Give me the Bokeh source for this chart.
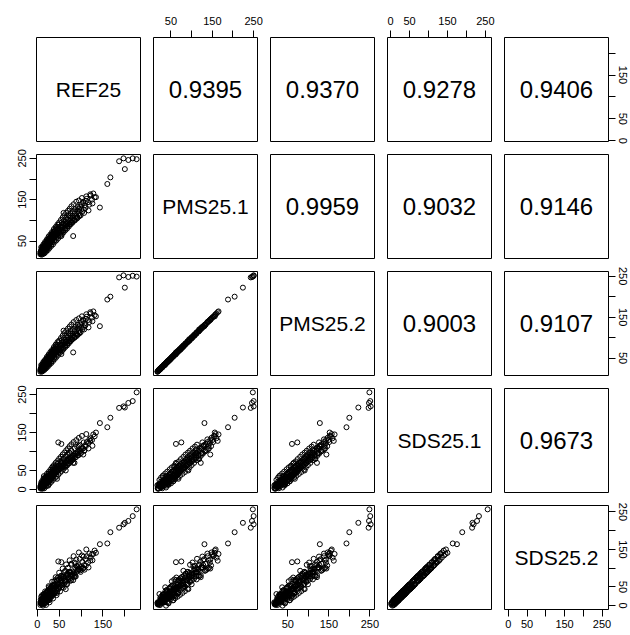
from bokeh.plotting import figure
from bokeh.layouts import gridplot
from bokeh.models import Range1d, LinearAxis, FixedTicker, ColumnDataSource
from bokeh.core.properties import value
from bokeh.embed import file_html
from bokeh.resources import INLINE

# ---------------- data ----------------
names = ["REF25", "PMS25.1", "PMS25.2", "SDS25.1", "SDS25.2"]

ref25 = [7, 7, 8, 8, 9, 9, 10, 10, 11, 11,
         12, 12, 13, 13, 14, 14, 15, 15, 16, 16,
         17, 17, 18, 18, 19, 19, 20, 20, 21, 21,
         22, 22, 23, 23, 24, 24, 25, 25, 26, 26,
         27, 27, 28, 28, 29, 29, 30, 30, 31, 31,
         32, 32, 33, 33, 34, 34, 35, 35, 36, 36,
         37, 37, 38, 38, 39, 39, 40, 40, 41, 42,
         43, 43, 44, 45, 45, 46, 47, 47, 48, 49,
         50, 51, 52, 53, 54, 55, 56, 57, 58, 59,
         60, 61, 62, 63, 64, 65, 66, 67, 68, 69,
         70, 71, 72, 73, 74, 75, 76, 77, 78, 79,
         80, 81, 82, 84, 85, 86, 87, 88, 90, 91,
         92, 93, 94, 96, 97, 98, 100, 101, 103, 105,
         106, 108, 110, 111, 113, 116, 119, 122, 125, 128,
         131,
         9, 12, 14, 16, 18, 20, 22, 24, 26, 28,
         30, 32, 34, 36, 38, 40, 42, 44, 46, 48,
         50, 52, 54, 56, 58, 60, 62, 64, 66, 68,
         70, 72, 74, 76, 78, 80, 83, 86, 89, 92,
         95, 99, 102, 107, 112, 117, 121, 126,
         15, 25, 35, 45, 55, 65, 75, 85, 95, 105,
         8, 10, 11, 13, 15, 17, 19, 21, 23, 25,
         27, 29, 9, 12, 14, 18, 20, 24, 28, 32,
         227, 218, 208, 197, 187, 200, 167, 160, 143, 134, 55, 48, 60, 82]

pms25_1 = [18, 22, 20, 25, 19, 27, 23, 30, 26, 35,
           21, 33, 28, 38, 31, 24, 35, 22, 29, 38,
           27, 44, 33, 41, 36, 26, 30, 44, 39, 50,
           34, 47, 42, 31, 37, 50, 45, 55, 40, 53,
           48, 36, 43, 56, 51, 60, 46, 59, 54, 41,
           49, 62, 57, 66, 52, 65, 60, 47, 55, 68,
           63, 72, 58, 71, 66, 52, 61, 74, 78, 69,
           64, 58, 77, 72, 84, 67, 80, 63, 75, 90,
           70, 84, 79, 69, 73, 88, 95, 83, 77, 74,
           92, 100, 87, 81, 80, 96, 106, 91, 86, 85,
           101, 112, 95, 91, 90, 106, 117, 100, 96, 95,
           111, 122, 105, 99, 102, 117, 127, 110, 104, 108,
           123, 132, 116, 110, 113, 133, 126, 139, 121, 142,
           126, 136, 130, 147, 152, 144, 138, 160, 150, 165,
           156,
           35, 18, 42, 20, 48, 24, 54, 28, 61, 33,
           66, 38, 72, 42, 79, 48, 84, 52, 90, 57,
           95, 62, 101, 66, 107, 71, 112, 76, 118, 80,
           123, 85, 128, 90, 134, 94, 139, 100, 145, 106,
           148, 112, 154, 118, 158, 124, 163, 141,
           30, 40, 58, 68, 82, 92, 110, 122, 128, 145,
           24, 17, 29, 25, 33, 30, 40, 34, 45, 38,
           50, 44, 21, 28, 26, 36, 39, 43, 47, 55,
           248, 250, 246, 250, 243, 224, 204, 188, 131, 156, 62, 75, 118, 62]

pms25_2 = [17, 21, 20, 24, 19, 26, 22, 29, 26, 34,
           21, 32, 27, 37, 31, 24, 34, 22, 29, 37,
           27, 43, 33, 40, 35, 26, 30, 43, 38, 49,
           34, 46, 41, 31, 37, 49, 44, 54, 40, 52,
           47, 36, 43, 55, 50, 59, 46, 58, 53, 41,
           49, 61, 56, 65, 52, 64, 59, 47, 55, 67,
           62, 71, 58, 70, 65, 52, 61, 73, 77, 68,
           64, 58, 76, 71, 83, 67, 79, 63, 74, 89,
           70, 83, 78, 69, 73, 87, 94, 82, 77, 74,
           91, 99, 86, 81, 80, 95, 105, 90, 86, 85,
           100, 111, 94, 91, 90, 105, 116, 99, 96, 95,
           110, 121, 104, 99, 102, 116, 126, 109, 104, 108,
           122, 131, 115, 110, 113, 132, 125, 138, 121, 141,
           126, 135, 130, 146, 151, 143, 138, 159, 149, 164,
           155,
           33, 18, 41, 21, 46, 25, 53, 29, 59, 34,
           65, 38, 70, 43, 77, 48, 83, 53, 89, 58,
           93, 63, 99, 67, 105, 72, 111, 77, 116, 81,
           122, 86, 127, 91, 132, 96, 138, 101, 143, 107,
           147, 113, 152, 120, 157, 125, 162, 140,
           29, 41, 57, 67, 81, 91, 109, 121, 127, 144,
           23, 17, 28, 25, 32, 30, 39, 34, 44, 38,
           49, 44, 21, 27, 26, 35, 39, 42, 47, 54,
           249, 251, 248, 252, 247, 222, 200, 193, 128, 152, 60, 73, 117, 64]

sds25_1 = [4, 8, 2, 10, 12, 6, 14, 9, 16, 22,
           11, 18, 7, 5, 20, 13, 15, 25, 22, 19,
           10, 12, 24, 17, 26, 31, 21, 14, 28, 16,
           19, 30, 23, 37, 33, 25, 18, 21, 35, 29,
           38, 42, 27, 22, 32, 27, 40, 36, 26, 47,
           43, 34, 30, 31, 46, 39, 33, 53, 48, 42,
           37, 36, 51, 45, 40, 58, 54, 49, 41, 44,
           57, 63, 52, 47, 46, 60, 55, 68, 50, 52,
           63, 58, 54, 74, 66, 62, 58, 57, 70, 80,
           66, 64, 61, 74, 86, 70, 70, 65, 78, 92,
           75, 77, 69, 97, 83, 79, 82, 74, 102, 88,
           84, 88, 79, 93, 108, 89, 94, 85, 98, 113,
           95, 100, 90, 104, 118, 101, 96, 106, 110, 108,
           124, 103, 117, 114, 125, 122, 132, 135, 130, 145,
           140,
           18, 2, 28, 3, 33, 8, 41, 12, 46, 15,
           52, 20, 58, 25, 64, 30, 70, 34, 75, 39,
           81, 44, 86, 49, 92, 54, 97, 59, 103, 63,
           108, 68, 114, 73, 119, 78, 125, 84, 130, 90,
           136, 96, 141, 102, 146, 108, 128, 115,
           35, 10, 60, 28, 72, 50, 95, 70, 115, 92,
           6, 11, 3, 15, 9, 18, 14, 24, 19, 27,
           23, 33, 13, 8, 21, 17, 27, 22, 30, 37,
           256, 233, 228, 219, 215, 216, 189, 164, 175, 150, 120, 124, 80, 70]

sds25_2 = [9, 2, 6, 16, 5, 12, 8, 17, 10, 28,
           4, 25, 14, 0, 13, 20, 9, 31, 16, 26,
           17, 6, 30, 10, 33, 24, 28, 8, 35, 23,
           12, 37, 30, 30, 40, 18, 25, 14, 42, 22,
           31, 49, 34, 15, 39, 20, 47, 29, 33, 40,
           50, 27, 37, 24, 53, 32, 40, 46, 55, 35,
           44, 29, 44, 52, 33, 65, 47, 56, 34, 51,
           50, 70, 45, 54, 39, 67, 48, 75, 57, 45,
           70, 51, 61, 67, 73, 55, 65, 50, 77, 73,
           73, 57, 68, 67, 93, 63, 77, 58, 85, 85,
           82, 70, 76, 90, 90, 72, 89, 67, 109, 81,
           91, 81, 86, 86, 115, 82, 101, 78, 105, 106,
           102, 93, 97, 97, 125, 94, 103, 99, 117, 101,
           131, 96, 124, 107, 132, 115, 139, 128, 137, 138,
           147,
           24, 3, 22, 8, 38, 2, 35, 18, 52, 9,
           45, 26, 64, 19, 57, 36, 76, 28, 68, 45,
           88, 38, 79, 55, 99, 48, 90, 65, 110, 57,
           101, 74, 121, 67, 112, 84, 132, 78, 123, 96,
           142, 90, 134, 108, 150, 102, 120, 121,
           30, 16, 52, 34, 80, 44, 88, 76, 108, 99,
           10, 7, 8, 12, 15, 14, 20, 19, 25, 23,
           29, 28, 9, 13, 17, 22, 22, 28, 26, 33,
           257, 239, 226, 217, 208, 221, 196, 166, 164, 141, 116, 118, 78, 68]

# correlations shown in the upper panels: (row, col) -> text
corr_rows = [0, 0, 0, 0, 1, 1, 1, 2, 2, 3]
corr_cols = [1, 2, 3, 4, 2, 3, 4, 3, 4, 4]
corr_text = ["0.9395", "0.9370", "0.9278", "0.9406",
             "0.9959", "0.9032", "0.9146",
             "0.9003", "0.9107",
             "0.9673"]

# axis ticks (R drops overlapping labels)
tick_values = [[0, 50, 100, 150, 200],
               [50, 100, 150, 200, 250],
               [50, 100, 150, 200, 250],
               [0, 50, 100, 150, 200, 250],
               [0, 50, 100, 150, 200, 250]]
tick_labels = [["0", "50", "", "150", ""],
               ["50", "", "150", "", "250"],
               ["50", "", "150", "", "250"],
               ["0", "50", "", "150", "", "250"],
               ["0", "50", "", "150", "", "250"]]

columns = [ref25, pms25_1, pms25_2, sds25_1, sds25_2]
n = len(names)
for col in columns:
    assert len(col) == len(ref25), (len(col), len(ref25))

source = ColumnDataSource({f"v{i}": columns[i] for i in range(n)})

# R-style ranges: data range extended by 4% on each side
ranges = []
for col in columns:
    lo, hi = min(col), max(col)
    pad = 0.04 * (hi - lo)
    ranges.append(Range1d(lo - pad, hi + pad))

FONT = "Liberation Sans"
FRAME = 104


def make_axis(var, loc):
    ax = LinearAxis(ticker=FixedTicker(ticks=tick_values[var]),
                    major_label_overrides={v: l for v, l in zip(tick_values[var], tick_labels[var])},
                    bounds=(tick_values[var][0], tick_values[var][-1]))
    ax.major_tick_out = 7
    ax.major_tick_in = 0
    ax.minor_tick_out = 0
    ax.minor_tick_in = 0
    ax.axis_line_color = "black"
    ax.major_tick_line_color = "black"
    ax.major_label_text_font = FONT
    ax.major_label_text_font_size = "11px"
    ax.major_label_text_color = "black"
    if loc in ("left", "right"):
        ax.major_label_orientation = "vertical"
        ax.major_label_standoff = 3
    elif loc == "above":
        ax.major_label_standoff = 6
    else:
        ax.major_label_standoff = 3
    return ax


rows = []
for r in range(n):
    row = []
    for c in range(n):
        left = 36 if c == 0 else 7
        right = 22 if c == n - 1 else 6
        top = 37 if r == 0 else 7
        bottom = 24 if r == n - 1 else 6
        p = figure(width=left + FRAME + right, height=top + FRAME + bottom,
                   x_range=ranges[c], y_range=ranges[r],
                   x_axis_location=None, y_axis_location=None,
                   toolbar_location=None, output_backend="svg",
                   min_border_left=left, min_border_right=right,
                   min_border_top=top, min_border_bottom=bottom)
        p.grid.visible = False
        p.outline_line_color = "black"
        p.outline_line_width = 1
        p.outline_line_alpha = 1.0
        p.background_fill_color = "white"
        p.border_fill_color = "white"

        cx = (ranges[c].start + ranges[c].end) / 2
        cy = (ranges[r].start + ranges[r].end) / 2
        if r == c:
            p.text(x=[cx], y=[cy], text=[names[r]], text_align="center",
                   text_baseline="middle", text_font=value(FONT),
                   text_font_size="21px", text_color="black")
        elif r < c:
            k = [i for i in range(len(corr_text)) if corr_rows[i] == r and corr_cols[i] == c][0]
            p.text(x=[cx], y=[cy], text=[corr_text[k]], text_align="center",
                   text_baseline="middle", text_font=value(FONT),
                   text_font_size="24px", text_color="black")
        else:
            p.scatter(x=f"v{c}", y=f"v{r}", source=source, marker="circle",
                      size=5, fill_color=None, line_color="black", line_width=1)

        # R pairs: alternating axes
        if r == 0 and c % 2 == 1:
            p.add_layout(make_axis(c, "above"), "above")
        if r == n - 1 and c % 2 == 0:
            p.add_layout(make_axis(c, "below"), "below")
        if c == 0 and r % 2 == 1:
            p.add_layout(make_axis(r, "left"), "left")
        if c == n - 1 and r % 2 == 0:
            p.add_layout(make_axis(r, "right"), "right")
        row.append(p)
    rows.append(row)

grid = gridplot(rows, toolbar_location=None)

with open("out.html", "w") as f:
    f.write(file_html(grid, INLINE))
